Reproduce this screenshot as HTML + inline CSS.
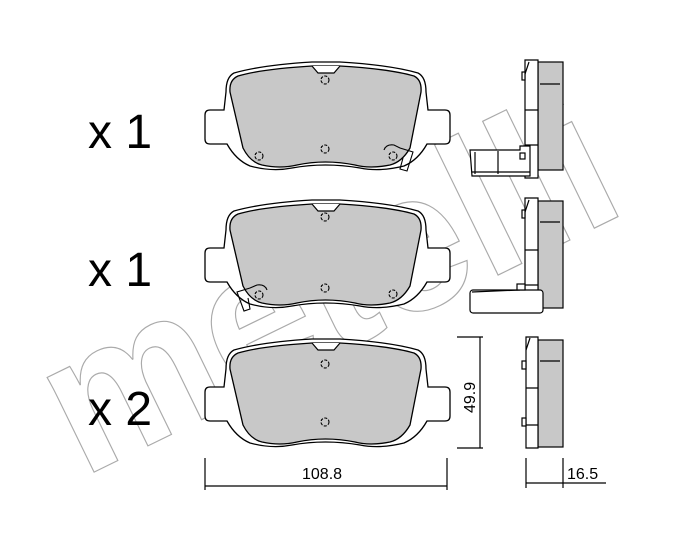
<!DOCTYPE html>
<html><head><style>
html,body{margin:0;padding:0;background:#fff;width:700px;height:545px;overflow:hidden}
</style></head><body>
<svg width="700" height="545" viewBox="0 0 700 545" xmlns="http://www.w3.org/2000/svg" font-family="Liberation Sans, sans-serif">
<defs>
<g id="pad">
  <path d="M234 73 Q262 65 312 62 L340 62 Q390 65 418 73 Q426 77 426 92 L428 110 L445 110 Q450 110 450 115 L450 139 Q450 144 445 144 L427 144 Q418 160 404 166 Q380 172 360 168 Q325 162 292 168 Q272 172 250 166 Q236 160 227 144 L210 144 Q205 144 205 139 L205 115 Q205 110 210 110 L224 110 L226 92 Q226 77 234 73 Z" fill="#fff" stroke="#000" stroke-width="1.3"/>
  <path d="M238 76 Q262 69 312 66 L340 66 Q390 69 414 76 Q422 80 421 92 L410 148 Q402 162 390 165 Q370 169 355 165 Q325 159 297 165 Q280 169 262 165 Q250 162 243 148 L230 92 Q229 80 238 76 Z" fill="#c8c8c8" stroke="#000" stroke-width="1.3"/>
  <path d="M312 66 L318 73 L334 73 L340 66" fill="#fff" stroke="#000" stroke-width="1.2"/>
</g>
<g id="hole"><circle r="4" fill="none" stroke="#000" stroke-width="1.1" stroke-dasharray="3 1.5"/></g>
</defs>

<!-- watermark -->
<text x="82" y="478" transform="rotate(-26 82 478)" font-size="200" font-weight="bold" fill="none" stroke="#aaa" stroke-width="1.2" textLength="610" lengthAdjust="spacingAndGlyphs">metelli</text>

<!-- labels -->
<text x="88" y="148" font-size="48">x 1</text>
<text x="88" y="286" font-size="48">x 1</text>
<text x="88" y="425" font-size="48">x 2</text>

<!-- pad 1 -->
<use href="#pad"/>
<use href="#hole" x="325" y="80"/><use href="#hole" x="325" y="149"/><use href="#hole" x="259" y="156"/><use href="#hole" x="393" y="156"/>
<path d="M384 150 Q386 144 394 145 L400 148 L413 152 L407 171 L400 169 L403 158" fill="none" stroke="#000" stroke-width="1.1"/>
<!-- pad 2 -->
<g transform="translate(0,138)"><use href="#pad"/></g>
<use href="#hole" x="325" y="217"/><use href="#hole" x="325" y="288"/><use href="#hole" x="259" y="295"/><use href="#hole" x="393" y="294"/>
<path d="M267 290 Q265 284 257 285 L250 288 L237 292 L244 311 L250 309 L248 298" fill="none" stroke="#000" stroke-width="1.1"/>
<!-- pad 3 -->
<g transform="translate(0,277)"><use href="#pad"/></g>
<use href="#hole" x="325" y="364"/><use href="#hole" x="325" y="422"/>

<!-- side views -->
<g stroke="#000" stroke-width="1.2" fill="#fff">
  <rect x="538" y="62" width="25" height="108" fill="#c8c8c8"/>
  <line x1="540" y1="84" x2="560" y2="84"/>
  <path d="M525 60 L538 60 L538 178 L525 178 Z"/>
  <path d="M525 74 L529 62 M525 110 L538 110 M525 145 L538 145"/>
  <rect x="522" y="72" width="3" height="8"/>
  <path d="M470 150 L520 150 L520 146 L530 146 L530 176 L472 176 Z"/>
  <path d="M475 152 L475 174 M498 151 L498 174 M472 172 L530 172"/>
  <rect x="520" y="153" width="5" height="6"/>
</g>
<g stroke="#000" stroke-width="1.2" fill="#fff">
  <rect x="538" y="201" width="25" height="107" fill="#c8c8c8"/>
  <line x1="540" y1="222" x2="560" y2="222"/>
  <path d="M525 198 L538 198 L538 300 L525 300 Z"/>
  <path d="M525 212 L529 200 M525 250 L538 250 M525 285 L538 285"/>
  <rect x="522" y="210" width="3" height="8"/>
  <rect x="470" y="290" width="73" height="23" rx="3"/>
  <path d="M472 292 L520 290"/>
  <rect x="517" y="284" width="8" height="6"/>
</g>
<g stroke="#000" stroke-width="1.2" fill="#fff">
  <rect x="538" y="340" width="25" height="107" fill="#c8c8c8"/>
  <line x1="540" y1="361" x2="560" y2="361"/>
  <path d="M526 337 L538 337 L538 448 L526 448 Z"/>
  <path d="M526 350 L530 338 M526 388 L538 388 M526 425 L538 425"/>
  <rect x="522" y="361" width="4" height="8"/>
  <rect x="522" y="418" width="4" height="8"/>
</g>

<!-- dimensions -->
<g stroke="#000" stroke-width="1.2" fill="none">
  <line x1="480" y1="337" x2="480" y2="448"/>
  <line x1="457" y1="337" x2="483" y2="337"/>
  <line x1="457" y1="448" x2="483" y2="448"/>
  <line x1="205" y1="486" x2="447" y2="486"/>
  <line x1="205" y1="458" x2="205" y2="490"/>
  <line x1="447" y1="458" x2="447" y2="490"/>
  <line x1="526" y1="483" x2="606" y2="483"/>
  <line x1="526" y1="458" x2="526" y2="488"/>
  <line x1="563" y1="458" x2="563" y2="488"/>
</g>
<text x="302" y="479" font-size="16">108.8</text>
<text x="567" y="479" font-size="16">16.5</text>
<text transform="translate(475 413) rotate(-90)" font-size="16">49.9</text>
</svg>
</body></html>
